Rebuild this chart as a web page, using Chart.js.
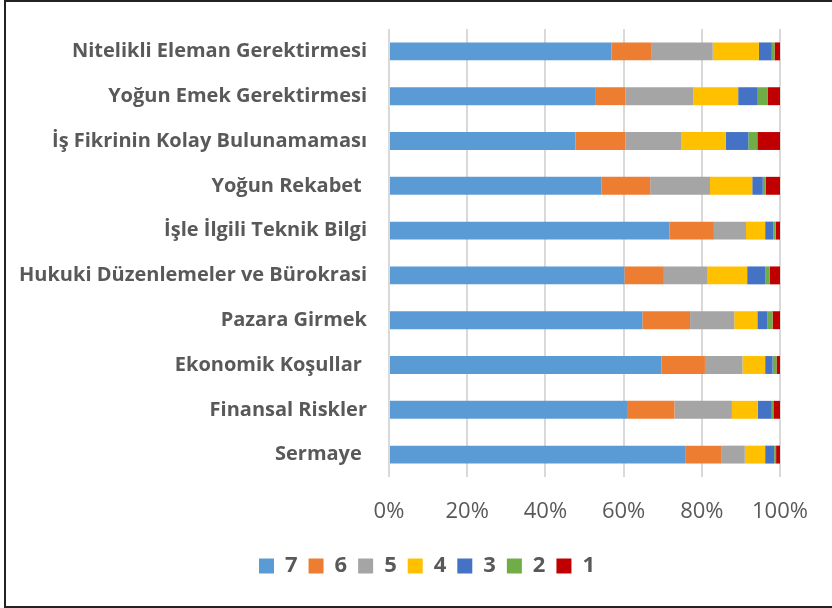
<!DOCTYPE html>
<html>
<head>
<meta charset="utf-8">
<script src="https://cdn.jsdelivr.net/npm/chart.js@4/dist/chart.umd.min.js"></script>
<style>
    html, body { margin: 0; padding: 0; background: #fff; overflow: hidden; }
    #frame {
        position: absolute; left: 4px; top: 0; width: 860px; height: 604px;
        border: 2px solid #222; background: #fff;
    }
    #wrap { position: absolute; left: 0; top: 0; width: 842px; height: 602px; }
</style>
</head>
<body>
<div id="frame">
    <div id="wrap"><canvas id="barChart"></canvas></div>
</div>
<script>
const categories = [
    'Nitelikli Eleman Gerektirmesi',
    'Yoğun Emek Gerektirmesi',
    'İş Fikrinin Kolay Bulunamaması',
    'Yoğun Rekabet ',
    'İşle İlgili Teknik Bilgi',
    'Hukuki Düzenlemeler ve Bürokrasi',
    'Pazara Girmek',
    'Ekonomik Koşullar ',
    'Finansal Riskler',
    'Sermaye '
];

// percentage share of each answer (7 = highest) per category
const score7 = [56.9, 52.7, 47.7, 54.3, 71.7, 60.2, 64.8, 69.7, 61.1, 75.9];
const score6 = [10.3, 7.8, 12.8, 12.5, 11.4, 10.1, 12.2, 11.1, 11.9, 9.2];
const score5 = [15.6, 17.3, 14.2, 15.3, 8.2, 11.2, 11.3, 9.6, 14.7, 5.9];
const score4 = [11.8, 11.5, 11.4, 10.8, 4.9, 10.1, 5.9, 5.8, 6.6, 5.2];
const score3 = [3.3, 5.0, 5.8, 2.7, 2.1, 4.6, 2.6, 1.9, 3.6, 2.3];
const score2 = [0.7, 2.5, 2.3, 0.8, 0.6, 1.2, 1.3, 1.0, 0.4, 0.5];
const score1 = [1.4, 3.2, 5.8, 3.6, 1.1, 2.6, 1.9, 0.9, 1.7, 1.0];

const seriesNames = ['7', '6', '5', '4', '3', '2', '1'];
const seriesValues = [score7, score6, score5, score4, score3, score2, score1];
const seriesColors = ['#5B9BD5', '#ED7D31', '#A5A5A5', '#FFC000', '#4472C4', '#70AD47', '#C00000'];

const xTicks = [0, 20, 40, 60, 80, 100];

const textColor = '#595959';

let datasets = seriesNames.map((name, i) => {
    return {
        label: name,
        data: seriesValues[i],
        backgroundColor: seriesColors[i],
        borderWidth: 0,
        barPercentage: 0.4,
        categoryPercentage: 1,
        yAxisID: 'y'
    };
});

// keeps the category axes from pushing the plot area down
function fixWidth(w) {
    return function(scale) {
        scale.width = w;
        scale.paddingTop = 0;
        scale.paddingBottom = 0;
    };
}

let ctx = document.getElementById('barChart').getContext('2d');

let barChart = new Chart(ctx, {
    type: 'bar',
    data: {
        labels: categories,
        datasets: datasets
    },
    options: {
        indexAxis: 'y',
        responsive: true,
        maintainAspectRatio: false,
        animation: false,
        layout: {
            padding: { left: 0, right: 0, top: 27, bottom: 17 }
        },
        plugins: {
            tooltip: { enabled: false },
            legend: {
                position: 'bottom',
                labels: {
                    boxWidth: 15,
                    boxHeight: 15,
                    padding: 11,
                    color: textColor,
                    font: { family: 'Open Sans', size: 22, weight: 'bold' }
                }
            }
        },
        scales: {
            x: {
                stacked: true,
                min: 0,
                max: 100,
                afterBuildTicks: function(scale) {
                    scale.ticks = xTicks.map(v => ({ value: v }));
                },
                afterFit: function(scale) {
                    scale.height = 67;
                },
                grid: {
                    color: '#d9d9d9',
                    lineWidth: 2,
                    drawTicks: false
                },
                border: { display: false },
                ticks: {
                    padding: 22,
                    color: textColor,
                    font: { family: 'Open Sans', size: 22 },
                    callback: function(value) {
                        return value + '%';
                    }
                }
            },
            y: {
                stacked: true,
                afterFit: fixWidth(383),
                grid: { display: false, drawTicks: false },
                border: { display: false },
                ticks: {
                    padding: 22,
                    color: textColor,
                    font: { family: 'Open Sans', size: 20, weight: 'bold' }
                }
            },
            yRight: {
                type: 'category',
                position: 'right',
                afterFit: fixWidth(68),
                grid: { display: false, drawTicks: false },
                border: { display: false },
                ticks: { display: false }
            }
        }
    }
});
</script>
</body>
</html>
